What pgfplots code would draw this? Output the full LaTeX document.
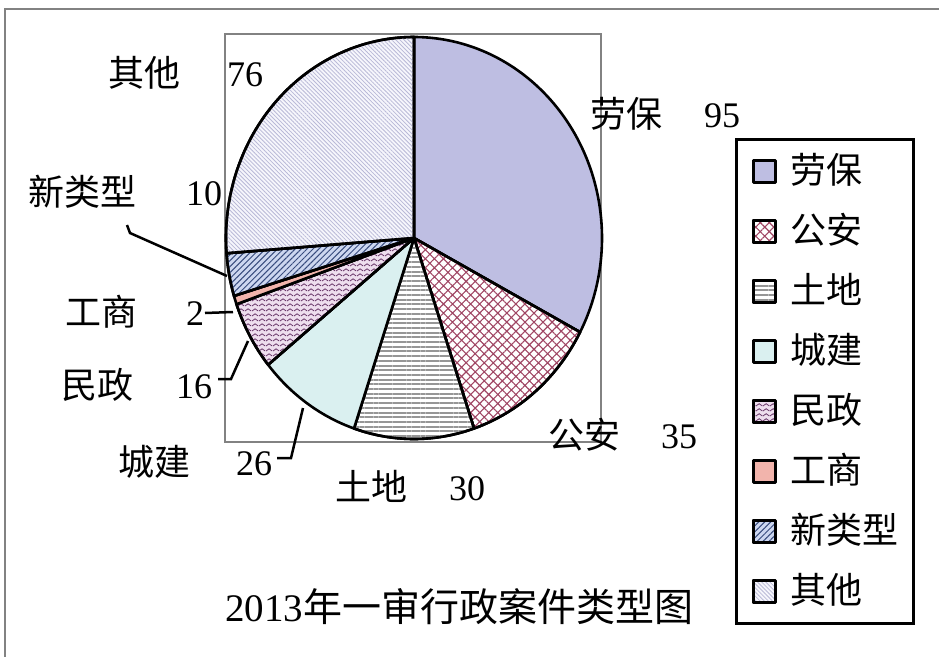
\documentclass[border=0pt]{standalone}
\usepackage{fontspec}
\setmainfont{Liberation Serif}
\newfontfamily\cjk{Noto Sans CJK SC}
\usepackage{pgfplots}
\pgfplotsset{compat=1.18}
\usetikzlibrary{patterns,patterns.meta}

\pgfdeclarepatternformonly{zigzag}{\pgfpoint{0bp}{0bp}}{\pgfpoint{7bp}{5bp}}{\pgfpoint{7bp}{5bp}}{%
  \pgfsetlinewidth{0.9bp}%
  \pgfpathmoveto{\pgfpoint{0bp}{1.2bp}}%
  \pgfpathlineto{\pgfpoint{3.5bp}{3.8bp}}%
  \pgfpathlineto{\pgfpoint{7bp}{1.2bp}}%
  \pgfusepath{stroke}}

\definecolor{laobao}{RGB}{190,190,226}
\definecolor{gonganL}{RGB}{160,70,100}
\definecolor{tudiL}{RGB}{150,150,150}
\definecolor{chengjian}{RGB}{218,240,240}
\definecolor{minzhengBG}{RGB}{238,222,238}
\definecolor{minzhengL}{RGB}{105,55,105}
\definecolor{gongshang}{RGB}{242,180,172}
\definecolor{xinBG}{RGB}{205,215,240}
\definecolor{xinL}{RGB}{55,75,125}
\definecolor{qitaBG}{RGB}{246,246,252}
\definecolor{qitaL}{RGB}{185,185,215}
\definecolor{framegray}{RGB}{130,130,130}

\newcommand{\lbl}{\fontsize{36bp}{40bp}\selectfont}
\newcommand{\ttl}{\fontsize{39bp}{44bp}\selectfont}
\def\total{(95+35+30+26+16+2+10+76)}

% #1 = sum of the values before, #2 = value, #3 = style
\newcommand{\slice}[3]{%
  \addplot[#3, draw=black, line width=2.6bp, line join=round, domain=(#1)*360/\total:(#1+#2)*360/\total, samples=120, variable=\t]
    ({414+188*sin(\t)},{238-201*cos(\t)}) -- (axis cs:414,238) -- cycle;
}

\begin{document}
\begin{tikzpicture}
\begin{axis}[
  at={(0,0)}, anchor=south west,
  scale only axis, width=939bp, height=657bp,
  xmin=0, xmax=939, ymin=0, ymax=657, y dir=reverse,
  hide axis, clip=false,
  every axis plot/.append style={mark=none},
  legend image code/.code={\draw[#1, draw=black, line width=3bp] (0bp,-11bp) rectangle (22bp,11bp);},
  legend cell align=left,
  legend style={at={(axis cs:735,138)}, anchor=north west, draw=black, line width=3bp, fill=white,
    font=\lbl\cjk, inner xsep=15bp, inner ysep=14bp, row sep=24bp, column sep=14bp,
    nodes={inner sep=0pt, text height=30bp, text depth=6bp}},
]
% outer frame (top and left)
\draw[framegray, line width=2bp] (axis cs:5,657) -- (axis cs:5,9) -- (axis cs:939,9);
% plot area
\draw[framegray, line width=2bp] (axis cs:225,34) rectangle (axis cs:601,442);

\slice{0}{95}{fill=laobao}
\addlegendentry{劳保}
\slice{95}{35}{preaction={fill=white}, pattern={Hatch[angle=45,distance=6.4bp,line width=1.1bp]}, pattern color=gonganL}
\addlegendentry{公安}
\slice{95+35}{30}{preaction={fill=white}, pattern={Lines[angle=0,distance=4.7bp,line width=2bp]}, pattern color=tudiL}
\addlegendentry{土地}
\slice{95+35+30}{26}{fill=chengjian}
\addlegendentry{城建}
\slice{95+35+30+26}{16}{preaction={fill=minzhengBG}, pattern=zigzag, pattern color=minzhengL}
\addlegendentry{民政}
\slice{95+35+30+26+16}{2}{fill=gongshang}
\addlegendentry{工商}
\slice{95+35+30+26+16+2}{10}{preaction={fill=xinBG}, pattern={Lines[angle=45,distance=4.2bp,line width=1bp]}, pattern color=xinL}
\addlegendentry{新类型}
\slice{95+35+30+26+16+2+10}{76}{preaction={fill=qitaBG}, pattern={Lines[angle=-45,distance=2.9bp,line width=0.8bp]}, pattern color=qitaL}
\addlegendentry{其他}

% leader lines
\draw[black, line width=2.5bp] (axis cs:127,225) -- (axis cs:130,233) -- (axis cs:227,276);
\draw[black, line width=2.5bp] (axis cs:205,313) -- (axis cs:233,312);
\draw[black, line width=2.5bp] (axis cs:218,379) -- (axis cs:231,379) -- (axis cs:248,341);
\draw[black, line width=2.5bp] (axis cs:277,458) -- (axis cs:291,458) -- (axis cs:303,408);

% data labels
\node[anchor=base west, inner sep=0pt, font=\lbl\cjk] at (axis cs:108,87) {其他};
\node[anchor=base west, inner sep=0pt, font=\lbl] at (axis cs:227,87) {76};
\node[anchor=base west, inner sep=0pt, font=\lbl\cjk] at (axis cs:590,127) {劳保};
\node[anchor=base west, inner sep=0pt, font=\lbl] at (axis cs:704,127) {95};
\node[anchor=base west, inner sep=0pt, font=\lbl\cjk] at (axis cs:28,205) {新类型};
\node[anchor=base west, inner sep=0pt, font=\lbl] at (axis cs:186,205) {10};
\node[anchor=base west, inner sep=0pt, font=\lbl\cjk] at (axis cs:65,325) {工商};
\node[anchor=base west, inner sep=0pt, font=\lbl] at (axis cs:186,325) {2};
\node[anchor=base west, inner sep=0pt, font=\lbl\cjk] at (axis cs:61,398) {民政};
\node[anchor=base west, inner sep=0pt, font=\lbl] at (axis cs:176,398) {16};
\node[anchor=base west, inner sep=0pt, font=\lbl\cjk] at (axis cs:118,475) {城建};
\node[anchor=base west, inner sep=0pt, font=\lbl] at (axis cs:236,475) {26};
\node[anchor=base west, inner sep=0pt, font=\lbl\cjk] at (axis cs:335,500) {土地};
\node[anchor=base west, inner sep=0pt, font=\lbl] at (axis cs:449,500) {30};
\node[anchor=base west, inner sep=0pt, font=\lbl\cjk] at (axis cs:548,448) {公安};
\node[anchor=base west, inner sep=0pt, font=\lbl] at (axis cs:661,448) {35};

% title
\node[anchor=base west, inner sep=0pt, font=\ttl] at (axis cs:225,621) {2013{\cjk 年一审行政案件类型图}};
\end{axis}
\pgfresetboundingbox
\path[use as bounding box] (0,0) rectangle (939bp,657bp);
\end{tikzpicture}
\end{document}
